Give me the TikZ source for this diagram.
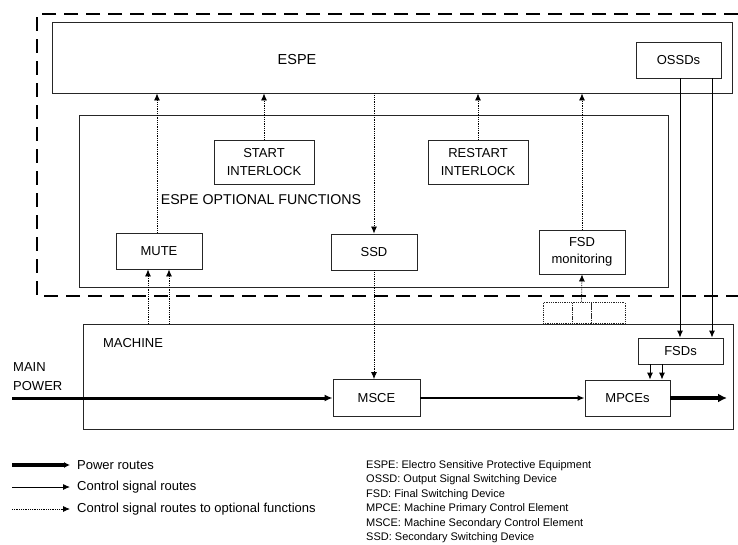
\documentclass[tikz,border=0pt]{standalone}
\usepackage{fontspec}
\setmainfont{Liberation Sans}
\usetikzlibrary{arrows.meta,positioning}

\begin{document}
\begin{tikzpicture}[
  x=1pt, y=-1pt,
  box/.style={draw=black!85, line width=0.9pt, inner sep=0pt, align=center, font=\fontsize{13}{18}\selectfont},
  dotbox/.style={draw=black!85, densely dotted, line width=0.8pt, inner sep=0pt, minimum height=21pt},
  txt/.style={inner sep=0pt, align=left, font=\fontsize{13}{19}\selectfont},
  frame/.style={line width=2.6pt, dash pattern=on 14pt off 8pt},
  optline/.style={densely dotted, line width=0.8pt},
  ctrlline/.style={line width=0.9pt},
  >={Latex[length=7pt, width=6pt]}
]
\useasboundingbox (0,0) rectangle (738,544);

% ESPE boundary (dashed, open to the right)
\draw[frame] (738,14) -- (37,14) -- (37,296) -- (738,296);

% ESPE and its optional functions
\node[box, minimum width=680pt, minimum height=71pt] (espe) at (392,57.5) {};
\node[txt, font=\fontsize{14.5}{17}\selectfont] (espetxt) at (297,60) {ESPE};
\node[box, minimum width=85pt, minimum height=36pt] (ossd) at (678.5,60) {OSSDs};
\node[box, minimum width=589pt, minimum height=172pt] (opt) at (373.5,201) {};
\node[txt, font=\fontsize{14.2}{17}\selectfont] (opttxt) at (261,200) {ESPE OPTIONAL FUNCTIONS};
\node[box, minimum width=100pt, minimum height=44pt] (start) at (264,162) {START\\INTERLOCK};
\node[box, minimum width=100pt, minimum height=44pt] (restart) at (478,162) {RESTART\\INTERLOCK};
\node[box, minimum width=86pt, minimum height=36pt] (mute) at (159,251) {MUTE};
\node[box, minimum width=86pt, minimum height=36pt] (ssd) at (374,252) {SSD};
\node[box, minimum width=86pt, minimum height=44pt, font=\fontsize{13}{17}\selectfont] (fsdmon) at (582,252) {FSD\\monitoring};

% interface between machine and ESPE
\node[dotbox, minimum width=29pt] (if1) at (557.5,313) {};
\node[dotbox, minimum width=19pt] (if2) at (581.5,313) {};
\node[dotbox, minimum width=34pt] (if3) at (608,313) {};

% Machine part
\node[box, minimum width=650pt, minimum height=105pt] (machine) at (408,376.5) {};
\node[txt] (machtxt) at (133,343) {MACHINE};
\node[txt, anchor=west] (mainpwr) at (13,377) {MAIN\\POWER};
\coordinate (pwin) at (12,398);
\node[box, minimum width=87pt, minimum height=37pt] (msce) at (376.5,398) {MSCE};
\node[box, minimum width=85pt, minimum height=36pt] (mpce) at (627.5,398) {MPCEs};
\node[box, minimum width=85pt, minimum height=26pt] (fsd) at (680.5,351) {FSDs};
\coordinate (pwout) at (727,398);

% power routes
\draw[->, line width=3pt, >={Latex[length=8pt, width=7pt]}] (pwin) -- (msce.west);
\draw[->, line width=1.8pt] (msce.east) -- (mpce.west);
\draw[->, line width=4pt, >={Latex[length=9pt, width=9pt]}] (mpce.east) -- (pwout);

% control signal routes
\draw[->, ctrlline] ([xshift=1.5pt]ossd.south) -- ([xshift=1.5pt]ossd.south |- fsd.north);
\draw[->, ctrlline] ([xshift=33.5pt]ossd.south) -- ([xshift=33.5pt]ossd.south |- fsd.north);
\draw[->, ctrlline] ([xshift=-30.5pt]fsd.south) -- ([xshift=-30.5pt]fsd.south |- mpce.north);
\draw[->, ctrlline] ([xshift=-18.5pt]fsd.south) -- ([xshift=-18.5pt]fsd.south |- mpce.north);

% control signal routes to optional functions
\draw[->, optline] ([xshift=-2pt]mute.north) -- ([xshift=-2pt]mute.north |- espe.south);
\draw[->, optline] (start.north) -- (start.north |- espe.south);
\draw[->, optline] (restart.north) -- (restart.north |- espe.south);
\draw[->, optline] (fsdmon.north) -- (fsdmon.north |- espe.south);
\draw[->, optline] (ssd.north |- espe.south) -- (ssd.north);
\draw[->, optline] (ssd.south) -- (ssd.south |- msce.north);
\draw[->, optline] ([xshift=-11pt]mute.south |- machine.north) -- ([xshift=-11pt]mute.south);
\draw[->, optline] ([xshift=10pt]mute.south |- machine.north) -- ([xshift=10pt]mute.south);
\draw[->, optline] (if2.north) -- (fsdmon.south);

% legend
\coordinate (lg1) at (12,465);
\coordinate (lg2) at (12,487);
\coordinate (lg3) at (12,509);
\node[txt, anchor=west, font=\fontsize{13}{15}\selectfont] (lgpwr) at (77,465) {Power routes};
\node[txt, anchor=west, font=\fontsize{13}{15}\selectfont] (lgctrl) at (77,487) {Control signal routes};
\node[txt, anchor=west, font=\fontsize{13}{15}\selectfont] (lgopt) at (77,509) {Control signal routes to optional functions};
\draw[->, line width=3.5pt, >={Latex[length=6pt, width=6pt]}] (lg1) -- ([xshift=-7pt]lgpwr.west);
\draw[->, ctrlline] (lg2) -- ([xshift=-7pt]lgctrl.west);
\draw[->, optline] (lg3) -- ([xshift=-7pt]lgopt.west);

% abbreviations
\node[txt, anchor=west, font=\fontsize{11}{14.5}\selectfont] (abbr) at (366,501.5)
  {ESPE: Electro Sensitive Protective Equipment\\
   OSSD: Output Signal Switching Device\\
   FSD: Final Switching Device\\
   MPCE: Machine Primary Control Element\\
   MSCE: Machine Secondary Control Element\\
   SSD: Secondary Switching Device};
\end{tikzpicture}
\end{document}
